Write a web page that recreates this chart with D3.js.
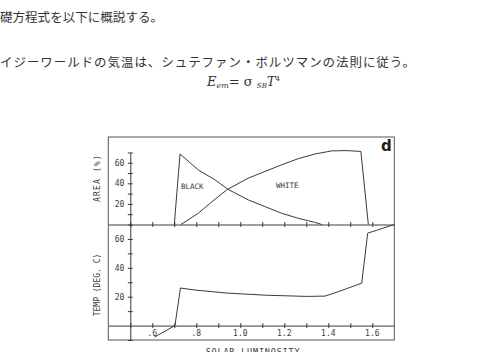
<!DOCTYPE html>
<html>
<head>
<meta charset="utf-8">
<script src="https://cdn.jsdelivr.net/npm/d3@7"></script>
<style>
  html, body { margin: 0; padding: 0; background: #fff; }
  svg { display: block; }
</style>
</head>
<body>
<div id="chart"></div>
<script>
const FRAME_WIDTH = 480;
const FRAME_HEIGHT = 352;

// page text around the figure
const TEXT_LINES = ["礎方程式を以下に概説する。", "イジーワールドの気温は、シュテファン・ボルツマンの法則に従う。"];

// axis ticks
const X_TICKS = [0.5, 0.6, 0.7, 0.8, 0.9, 1.0, 1.1, 1.2, 1.3, 1.4, 1.5, 1.6];
const X_LABEL_TICKS = [0.6, 0.8, 1.0, 1.2, 1.4, 1.6];
const X_LABELS = [".6", ".8", "1.0", "1.2", "1.4", "1.6"];
const AREA_TICKS = [10, 20, 30, 40, 50, 60, 70];
const TEMP_TICKS = [-10, 10, 20, 30, 40, 50, 60, 70];
const Y_LABEL_TICKS = [20, 40, 60];

// daisy areas (%)
const BLACK_L = [0.70, 0.726, 0.809, 0.885, 0.943, 1.036, 1.112, 1.188, 1.264, 1.34, 1.37];
const BLACK_AREA = [0, 68.5, 53, 43.4, 34.3, 23.9, 17.4, 10.9, 6, 2, 0];
const WHITE_L = [0.73, 0.809, 0.885, 0.943, 1.036, 1.112, 1.188, 1.264, 1.34, 1.415, 1.48, 1.548, 1.582];
const WHITE_AREA = [0, 10.9, 24.6, 34.3, 45, 51.5, 58, 64, 68.5, 71.5, 71.8, 71, 0];

// temperature (deg C)
const TEMP_L = [0.61, 0.703, 0.728, 0.80, 0.94, 1.0, 1.12, 1.30, 1.385, 1.45, 1.552, 1.579, 1.62, 1.70];
const TEMP = [-8, 0, 26, 24.5, 22.5, 22, 21, 20.2, 20.4, 23.7, 29.4, 64, 66, 70];

const INK = "#3a3a3a";
const MONO = "'DejaVu Sans Mono', monospace";

const svg = d3.select("#chart")
  .append("svg")
    .attr("width", FRAME_WIDTH)
    .attr("height", FRAME_HEIGHT);

// text lines
svg.append("text")
  .attr("x", 0).attr("y", 22)
  .attr("font-family", "'Noto Sans CJK JP'")
  .attr("font-size", 12.5)
  .attr("textLength", 163)
  .attr("fill", "#333")
  .text(TEXT_LINES[0]);

svg.append("text")
  .attr("x", 0).attr("y", 67)
  .attr("font-family", "'Noto Sans CJK JP'")
  .attr("font-size", 12.5)
  .attr("textLength", 415)
  .attr("fill", "#333")
  .text(TEXT_LINES[1]);

// equation
const eq = svg.append("text")
  .attr("x", 207).attr("y", 86)
  .attr("font-family", "'DejaVu Serif', serif")
  .attr("font-size", 13)
  .attr("fill", "#333");
eq.append("tspan").attr("font-style", "italic").text("E");
eq.append("tspan").attr("font-style", "italic").attr("font-size", 8).attr("dy", 2).text("em");
eq.append("tspan").attr("dy", -2).text("= σ ");
eq.append("tspan").attr("font-style", "italic").attr("font-size", 7).attr("dy", 2).text("SB");
eq.append("tspan").attr("font-style", "italic").attr("dy", -2).text("T");
eq.append("tspan").attr("font-size", 7).attr("dy", -5).text("4");

// chart frame geometry
const LEFT = 108.3, RIGHT = 394.3, TOP = 137, MID = 224.5, BOTTOM = 340;

const X_SCALE = d3.scaleLinear().domain([0.4, 1.7]).range([LEFT, RIGHT]);
const AREA_SCALE = d3.scaleLinear().domain([0, 85]).range([MID, TOP]);
const TEMP_SCALE = d3.scaleLinear().domain([-10, 70]).range([BOTTOM, MID]);

// frame
svg.append("rect")
  .attr("x", LEFT).attr("y", TOP)
  .attr("width", RIGHT - LEFT).attr("height", BOTTOM - TOP)
  .attr("fill", "none").attr("stroke", "#555").attr("stroke-width", 1);

// x axes: divider line and bottom panel axis, "+" ticks
function crossTicks(g) {
  g.select(".domain").attr("stroke", INK);
  g.selectAll(".tick line").attr("y1", -2.5).attr("y2", 2.5).attr("stroke", INK);
}

svg.append("g")
  .attr("transform", "translate(0," + MID + ")")
  .call(d3.axisBottom(X_SCALE).tickValues(X_TICKS).tickSizeOuter(0).tickFormat(""))
  .call(crossTicks);

const xAxis = svg.append("g")
  .attr("transform", "translate(0," + TEMP_SCALE(0) + ")")
  .call(d3.axisBottom(X_SCALE).tickValues(X_TICKS).tickSizeOuter(0).tickFormat(""))
  .call(crossTicks);

svg.append("g").selectAll("text")
  .data(X_LABEL_TICKS)
  .enter()
  .append("text")
    .attr("x", (d) => X_SCALE(d))
    .attr("y", TEMP_SCALE(0) + 10)
    .attr("text-anchor", "middle")
    .attr("font-family", MONO)
    .attr("font-size", 8)
    .attr("fill", INK)
    .text((d, i) => X_LABELS[i]);

// y axes
function yCross(g) {
  g.select(".domain").attr("stroke", INK);
  g.selectAll(".tick line").attr("x1", -2.5).attr("x2", 2.5).attr("stroke", INK);
}

svg.append("g")
  .attr("transform", "translate(" + X_SCALE(0.5) + ",0)")
  .call(d3.axisLeft(d3.scaleLinear().domain([0, 70]).range([MID, AREA_SCALE(70)]))
    .tickValues(AREA_TICKS).tickSizeOuter(0).tickFormat(""))
  .call(yCross);

svg.append("g")
  .attr("transform", "translate(" + X_SCALE(0.5) + ",0)")
  .call(d3.axisLeft(TEMP_SCALE).tickValues(TEMP_TICKS).tickSizeOuter(0).tickFormat(""))
  .call(yCross);

svg.append("g").selectAll("text")
  .data(Y_LABEL_TICKS)
  .enter()
  .append("text")
    .attr("x", X_SCALE(0.5) - 6)
    .attr("y", (d) => AREA_SCALE(d) + 3)
    .attr("text-anchor", "end")
    .attr("font-family", MONO)
    .attr("font-size", 8)
    .attr("fill", INK)
    .text((d) => d);

svg.append("g").selectAll("text")
  .data(Y_LABEL_TICKS)
  .enter()
  .append("text")
    .attr("x", X_SCALE(0.5) - 6)
    .attr("y", (d) => TEMP_SCALE(d) + 3)
    .attr("text-anchor", "end")
    .attr("font-family", MONO)
    .attr("font-size", 8)
    .attr("fill", INK)
    .text((d) => d);

// axis titles
svg.append("text")
  .attr("transform", "translate(100," + 178 + ") rotate(-90)")
  .attr("text-anchor", "middle")
  .attr("font-family", MONO)
  .attr("font-size", 8)
  .attr("letter-spacing", 1.2)
  .attr("fill", INK)
  .text("AREA (%)");

svg.append("text")
  .attr("transform", "translate(100," + 285 + ") rotate(-90)")
  .attr("text-anchor", "middle")
  .attr("font-family", MONO)
  .attr("font-size", 8)
  .attr("fill", INK)
  .text("TEMP (DEG. C)");

svg.append("text")
  .attr("x", 253).attr("y", 355)
  .attr("text-anchor", "middle")
  .attr("font-family", MONO)
  .attr("font-size", 8.5)
  .attr("letter-spacing", 0.8)
  .attr("fill", INK)
  .text("SOLAR LUMINOSITY");

// series
const line = d3.line();

svg.append("path")
  .attr("d", line(BLACK_L.map((d, i) => [X_SCALE(d), AREA_SCALE(BLACK_AREA[i])])))
  .attr("fill", "none").attr("stroke", INK).attr("stroke-width", 1);

svg.append("path")
  .attr("d", line(WHITE_L.map((d, i) => [X_SCALE(d), AREA_SCALE(WHITE_AREA[i])])))
  .attr("fill", "none").attr("stroke", INK).attr("stroke-width", 1);

svg.append("path")
  .attr("d", line(TEMP_L.map((d, i) => [X_SCALE(d), TEMP_SCALE(TEMP[i])])))
  .attr("fill", "none").attr("stroke", INK).attr("stroke-width", 1);

// labels inside the plot
svg.append("text")
  .attr("x", 181).attr("y", 189)
  .attr("font-family", MONO).attr("font-size", 7.5).attr("fill", INK)
  .text("BLACK");

svg.append("text")
  .attr("x", 276).attr("y", 188)
  .attr("font-family", MONO).attr("font-size", 7.5).attr("fill", INK)
  .text("WHITE");

svg.append("text")
  .attr("x", 381).attr("y", 151)
  .attr("font-family", "'DejaVu Sans', sans-serif")
  .attr("font-weight", "bold")
  .attr("font-size", 15)
  .attr("fill", "#222")
  .text("d");
</script>
</body>
</html>
